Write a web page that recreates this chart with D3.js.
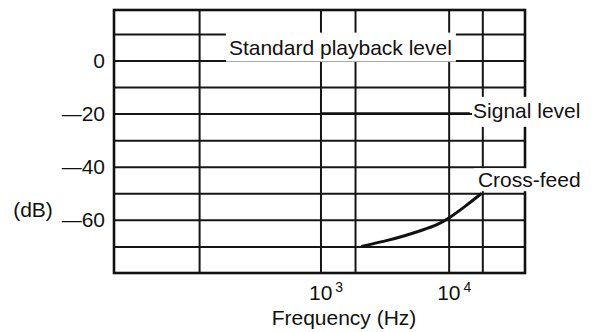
<!DOCTYPE html>
<html>
<head>
<meta charset="utf-8">
<script src="https://cdn.jsdelivr.net/npm/d3@7"></script>
<style>
  body { margin: 0; background: #fff; }
  text { font-family: "Liberation Sans", Arial, Helvetica, sans-serif; fill: #111; }
</style>
</head>
<body>
<script>
// chart values
var gridFreqs = [113, 1000, 1860, 10000, 18300];          // vertical grid lines (Hz)
var gridLevels = [10, 0, -10, -20, -30, -40, -50, -60, -70]; // horizontal grid lines (dB)
var levelTicks = [0, -20, -40, -60];
var decadeTicks = [1000, 10000];
var decadeExps = ["3", "4"];
var signalFreqs = [1000, 14600];
var signalLevels = [-20, -20];
var crossFreqs = [2080, 3460, 4560, 6300, 8300, 10000, 13400, 18100];
var crossLevels = [-70, -67.6, -66, -63.8, -61.7, -59.5, -55, -50];

var svg_width = 595, svg_height = 332;
var margin = {top: 10, right: 70, bottom: 59, left: 114};
var width = svg_width - margin.left - margin.right,
    height = svg_height - margin.top - margin.bottom;

var svg = d3.select("body").append("svg")
    .attr("width", svg_width)
    .attr("height", svg_height);
var g = svg.append("g").attr("transform", "translate(" + margin.left + "," + margin.top + ")");

// log frequency axis, linear dB axis
var x = d3.scaleLog().domain([24.5, 39400]).range([0, width]);
var y = d3.scaleLinear().domain([-80, 19]).range([height, 0]);

// grid lines drawn with axes (no labels)
g.append("g")
    .attr("class", "grid")
    .attr("transform", "translate(0," + height + ")")
    .call(d3.axisBottom(x).tickValues(gridFreqs).tickSize(-height).tickFormat(""));
g.append("g")
    .attr("class", "grid")
    .call(d3.axisLeft(y).tickValues(gridLevels).tickSize(-width).tickFormat(""));
g.selectAll(".grid .domain").remove();
g.selectAll(".grid line").attr("stroke", "#161616").attr("stroke-width", 2);

// frame
g.append("rect")
    .attr("width", width)
    .attr("height", height)
    .attr("fill", "none")
    .attr("stroke", "#111")
    .attr("stroke-width", 2.6);

// labels that sit on the grid get a white patch behind them
var labels = [
  {text: "Standard playback level", freq: 193, level: 2.2, pad: [3, 4, 3, 3]},
  {text: "Signal level", freq: 15500, level: -21.6, pad: [2, 12, 5, 1]},
  {text: "Cross-feed", freq: 16900, level: -47.7, pad: [0, 12, 0, 4]}
];
var patchLayer = g.append("g");
var dataLayer = g.append("g");
var textLayer = g.append("g");

labels.forEach(function(d) {
  var t = textLayer.append("text")
      .attr("x", x(d.freq))
      .attr("y", y(d.level))
      .attr("font-size", 21)
      .text(d.text);
  var b = t.node().getBBox();
  patchLayer.append("rect")
      .attr("x", b.x - d.pad[3])
      .attr("y", b.y - d.pad[0])
      .attr("width", b.width + d.pad[1] + d.pad[3])
      .attr("height", b.height + d.pad[0] + d.pad[2])
      .attr("fill", "#fff");
});

// signal level line
var line = d3.line()
    .x(function(d) { return x(d[0]); })
    .y(function(d) { return y(d[1]); });
dataLayer.append("path")
    .datum(d3.zip(signalFreqs, signalLevels))
    .attr("d", line)
    .attr("fill", "none")
    .attr("stroke", "#111")
    .attr("stroke-width", 2.8);

// cross-feed curve
dataLayer.append("path")
    .datum(d3.zip(crossFreqs, crossLevels))
    .attr("d", line.curve(d3.curveBasis))
    .attr("fill", "none")
    .attr("stroke", "#111")
    .attr("stroke-width", 3);

// y tick labels
var yAxis = g.append("g")
    .call(d3.axisLeft(y).tickValues(levelTicks).tickSize(0).tickPadding(9));
yAxis.select(".domain").remove();
yAxis.selectAll("text")
    .attr("font-size", 21)
    .attr("font-family", null)
    .text(null)
    .each(function(d) {
      var t = d3.select(this);
      if (d < 0) t.append("tspan").attr("font-size", 20).text("\u2014");
      t.append("tspan").text(Math.abs(d));
    });

// x decade labels (10^n)
var xAxis = g.append("g")
    .attr("transform", "translate(0," + height + ")")
    .call(d3.axisBottom(x).tickValues(decadeTicks).tickSize(0).tickPadding(12));
xAxis.select(".domain").remove();
xAxis.selectAll("text")
    .attr("font-size", 21)
    .attr("text-anchor", "start")
    .attr("dx", -12)
    .text(null)
    .each(function(d, i) {
      var t = d3.select(this);
      t.append("tspan").text("10");
      t.append("tspan").attr("font-size", 14).attr("dx", 3).attr("dy", -8).text(decadeExps[i]);
    });

// axis titles
svg.append("text")
    .attr("x", 344)
    .attr("y", 325)
    .attr("text-anchor", "middle")
    .attr("font-size", 21)
    .text("Frequency (Hz)");
svg.append("text")
    .attr("x", 33)
    .attr("y", 217)
    .attr("text-anchor", "middle")
    .attr("font-size", 21)
    .text("(dB)");
</script>
</body>
</html>
